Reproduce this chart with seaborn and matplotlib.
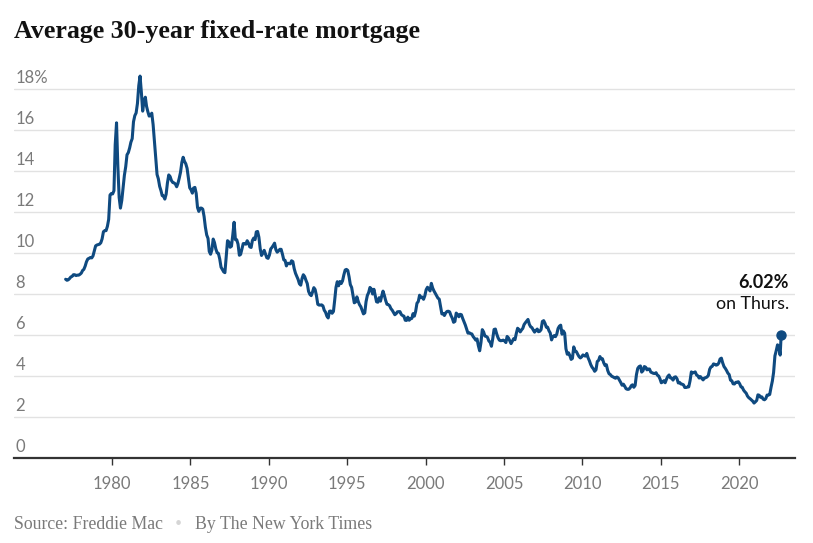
import matplotlib
matplotlib.use("Agg")
import matplotlib.pyplot as plt
import matplotlib.dates as mdates
import matplotlib.transforms as mtransforms
import seaborn as sns
import pandas as pd

# Monthly average 30-year fixed rates (%)
rates_1977_1979 = [8.72, 8.67, 8.69, 8.75, 8.83, 8.86, 8.94, 8.94, 8.90, 8.92, 8.92, 8.96,
                   9.02, 9.15, 9.20, 9.36, 9.57, 9.71, 9.74, 9.78, 9.76, 9.86, 10.11, 10.35,
                   10.39, 10.41, 10.43, 10.50, 10.69, 11.04, 11.09, 11.09, 11.30, 11.64, 12.83, 12.90]
rates_1980s = [12.88, 13.04, 15.28, 16.35, 14.26, 12.71, 12.19, 12.56, 13.20, 13.79, 14.21, 14.79,
               14.90, 15.13, 15.40, 15.58, 16.40, 16.70, 16.83, 17.29, 18.16, 18.63, 17.83, 16.92,
               17.40, 17.60, 17.16, 16.89, 16.68, 16.70, 16.82, 16.27, 15.43, 14.61, 13.83, 13.62,
               13.25, 13.04, 12.80, 12.78, 12.63, 12.87, 13.42, 13.81, 13.73, 13.54, 13.44, 13.42,
               13.37, 13.23, 13.39, 13.65, 13.94, 14.42, 14.67, 14.47, 14.35, 14.13, 13.64, 13.18,
               13.08, 12.92, 13.17, 13.20, 12.91, 12.22, 12.03, 12.19, 12.19, 12.14, 11.78, 11.26,
               10.88, 10.71, 10.08, 9.94, 10.14, 10.68, 10.51, 10.20, 10.01, 9.98, 9.70, 9.31,
               9.20, 9.08, 9.04, 9.83, 10.60, 10.54, 10.28, 10.33, 10.89, 11.50, 10.65, 10.65,
               10.43, 9.89, 9.93, 10.20, 10.46, 10.46, 10.43, 10.60, 10.48, 10.30, 10.27, 10.61,
               10.73, 10.65, 11.03, 11.05, 10.77, 10.20, 9.88, 9.99, 10.13, 9.95, 9.77, 9.74]
rates_1990s = [9.90, 10.20, 10.27, 10.37, 10.48, 10.16, 10.04, 10.10, 10.18, 10.18, 9.94, 9.67,
               9.64, 9.37, 9.50, 9.49, 9.47, 9.62, 9.58, 9.24, 9.01, 8.86, 8.71, 8.50,
               8.43, 8.76, 8.94, 8.85, 8.67, 8.51, 8.13, 7.98, 7.92, 8.09, 8.31, 8.22,
               7.92, 7.50, 7.46, 7.46, 7.47, 7.42, 7.21, 7.11, 6.92, 6.83, 7.16, 7.17,
               7.06, 7.15, 7.68, 8.32, 8.60, 8.40, 8.61, 8.51, 8.64, 8.93, 9.17, 9.20,
               9.15, 8.83, 8.46, 8.32, 7.96, 7.57, 7.61, 7.86, 7.64, 7.48, 7.38, 7.20,
               7.03, 7.08, 7.62, 7.93, 8.07, 8.32, 8.25, 8.00, 8.23, 7.92, 7.62, 7.60,
               7.82, 7.65, 7.90, 8.14, 7.94, 7.69, 7.50, 7.48, 7.43, 7.29, 7.21, 7.10,
               6.99, 7.04, 7.13, 7.14, 7.14, 7.00, 6.95, 6.92, 6.72, 6.71, 6.87, 6.72,
               6.79, 6.81, 7.04, 6.92, 7.15, 7.55, 7.63, 7.94, 7.82, 7.85, 7.74, 7.91]
rates_2000s = [8.21, 8.33, 8.24, 8.15, 8.52, 8.29, 8.15, 8.03, 7.91, 7.80, 7.75, 7.38,
               7.03, 7.05, 6.95, 7.08, 7.15, 7.16, 7.13, 6.95, 6.82, 6.62, 6.66, 7.07,
               7.00, 6.89, 7.01, 6.99, 6.81, 6.65, 6.49, 6.29, 6.09, 6.11, 6.07, 6.05,
               5.92, 5.84, 5.75, 5.81, 5.48, 5.23, 5.63, 6.26, 6.15, 5.95, 5.93, 5.88,
               5.71, 5.64, 5.45, 5.83, 6.27, 6.29, 6.06, 5.87, 5.75, 5.72, 5.73, 5.75,
               5.71, 5.63, 5.93, 5.86, 5.72, 5.58, 5.70, 5.82, 5.77, 6.07, 6.33, 6.27,
               6.15, 6.25, 6.32, 6.51, 6.60, 6.68, 6.76, 6.52, 6.40, 6.36, 6.24, 6.14,
               6.22, 6.29, 6.16, 6.18, 6.26, 6.66, 6.70, 6.57, 6.38, 6.38, 6.21, 6.10,
               5.76, 5.92, 5.97, 5.92, 6.04, 6.32, 6.43, 6.48, 6.04, 6.20, 6.09, 5.33,
               5.06, 5.13, 5.00, 4.81, 4.86, 5.42, 5.22, 5.19, 5.06, 4.95, 4.88, 4.93]
rates_2010s = [5.03, 4.99, 4.97, 5.10, 4.89, 4.74, 4.56, 4.43, 4.35, 4.23, 4.30, 4.71,
               4.76, 4.95, 4.84, 4.84, 4.64, 4.51, 4.55, 4.27, 4.11, 4.07, 3.99, 3.96,
               3.92, 3.89, 3.95, 3.91, 3.80, 3.68, 3.55, 3.60, 3.50, 3.38, 3.35, 3.35,
               3.41, 3.53, 3.57, 3.45, 3.54, 4.07, 4.37, 4.46, 4.49, 4.19, 4.26, 4.46,
               4.43, 4.30, 4.34, 4.34, 4.19, 4.16, 4.13, 4.12, 4.16, 4.04, 4.00, 3.86,
               3.67, 3.71, 3.77, 3.67, 3.84, 3.98, 4.05, 3.91, 3.89, 3.80, 3.94, 3.96,
               3.87, 3.66, 3.69, 3.61, 3.60, 3.57, 3.44, 3.44, 3.46, 3.47, 3.77, 4.20,
               4.15, 4.17, 4.20, 4.05, 4.01, 3.90, 3.97, 3.88, 3.81, 3.90, 3.92, 3.95,
               4.03, 4.33, 4.44, 4.47, 4.59, 4.57, 4.53, 4.55, 4.63, 4.83, 4.87, 4.64,
               4.46, 4.37, 4.27, 4.14, 4.07, 3.80, 3.77, 3.62, 3.61, 3.69, 3.70, 3.72]
rates_2020s = [3.62, 3.47, 3.45, 3.31, 3.23, 3.16, 3.02, 2.94, 2.89, 2.83, 2.77, 2.68,
               2.74, 2.81, 3.08, 3.06, 2.96, 2.98, 2.87, 2.84, 2.90, 3.07, 3.07, 3.10,
               3.45, 3.76, 4.17, 4.98, 5.23, 5.52, 5.41, 5.02]
last_date = "2022-09-08"
last_rate = 6.02

tick_years = [1980, 1985, 1990, 1995, 2000, 2005, 2010, 2015, 2020]
y_ticks = [0, 2, 4, 6, 8, 10, 12, 14, 16, 18]
title = "Average 30-year fixed-rate mortgage"
source_text = "Source: Freddie Mac"
byline_text = "By The New York Times"
note_value = "6.02%"
note_when = "on Thurs."

# ---- assemble data ----
monthly = rates_1977_1979 + rates_1980s + rates_1990s + rates_2000s + rates_2010s + rates_2020s
dates = pd.date_range("1977-01-01", periods=len(monthly), freq="MS") + pd.Timedelta(days=14)
df = pd.DataFrame({"date": list(dates) + [pd.Timestamp(last_date)],
                   "rate": monthly + [last_rate]})

sns.set_theme(style="white")
plt.rcParams["font.family"] = ["Lato", "DejaVu Sans"]

LINE = "#0f4a80"
GRAY = "#7a7a7a"
SERIF = ["Liberation Serif", "DejaVu Serif"]

fig = plt.figure(figsize=(8.13, 5.43), dpi=100)
ax = fig.add_axes([14 / 813, (543 - 458) / 543, (795 - 14) / 813, (458 - 68.5) / 543])

sns.lineplot(data=df, x="date", y="rate", ax=ax, color=LINE, linewidth=2.2, zorder=3)
ax.plot([pd.Timestamp(last_date)], [last_rate], "o", color=LINE, markersize=6.5, zorder=4,
        clip_on=False)

ax.set_ylim(0, 19)
ax.set_xlim(pd.Timestamp("1973-09-30"), pd.Timestamp("2023-07-27"))

# gridlines
for v in y_ticks[1:]:
    ax.axhline(v, color="#e2e2e2", linewidth=1.0, zorder=1)
# y labels above gridlines
trans = mtransforms.blended_transform_factory(ax.transAxes, ax.transData)
for v in y_ticks:
    lab = f"{v}%" if v == 18 else f"{v}"
    ax.annotate(lab, xy=(0.0, v), xycoords=trans, xytext=(1, 4.5), textcoords="offset points",
                ha="left", va="baseline", fontsize=12, color=GRAY)

ax.set_yticks([])
ax.set_xticks([pd.Timestamp(f"{y}-01-01") for y in tick_years])
ax.xaxis.set_major_formatter(mdates.DateFormatter("%Y"))
ax.tick_params(axis="x", direction="out", length=5, width=1, color="#333333",
               labelsize=12, labelcolor=GRAY, pad=8, bottom=True)
for s in ["top", "right", "left"]:
    ax.spines[s].set_visible(False)
ax.spines["bottom"].set_color("#333333")
ax.spines["bottom"].set_linewidth(1.6)
ax.set_xlabel("")
ax.set_ylabel("")

# annotation
fig.text(789 / 813, 1 - 288 / 543, note_value, ha="right", va="baseline", fontsize=13,
         fontweight="bold", color="#111111")
fig.text(789 / 813, 1 - 309 / 543, note_when, ha="right", va="baseline", fontsize=12.8,
         color="#111111")

# title and footer
fig.text(14 / 813, 1 - 38 / 543, title, ha="left", va="baseline", fontsize=18.6,
         fontweight="bold", family=SERIF, color="#121212")
fig.text(14 / 813, 1 - 529 / 543, source_text, ha="left", va="baseline", fontsize=12.8,
         family=SERIF, color=GRAY)
fig.text(178 / 813, 1 - 527 / 543, "\u2022", ha="center", va="baseline", fontsize=9,
         color="#d5d5d5")
fig.text(195 / 813, 1 - 529 / 543, byline_text, ha="left", va="baseline", fontsize=12.8,
         family=SERIF, color=GRAY)

fig.savefig("out.png", dpi=100)
